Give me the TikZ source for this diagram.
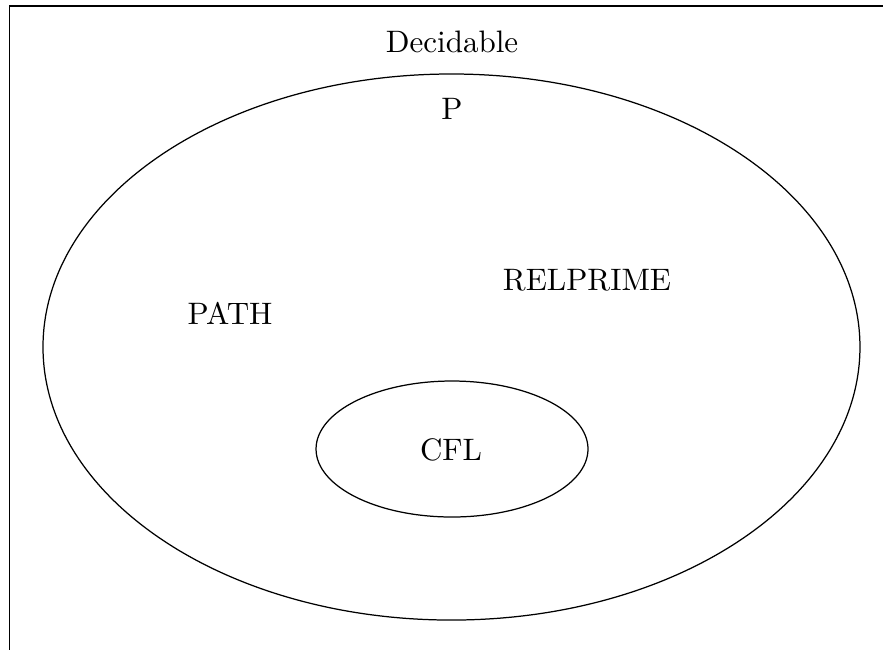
\documentclass[tikz,border=0pt]{standalone}
\usepackage{amsmath}
\usepackage{amssymb}

\tikzset{
  classset/.style={draw},
  classname/.style={inner sep=0pt}
}

\begin{document}
\begin{tikzpicture}
    \useasboundingbox (0,0) rectangle (10,7.361);
    \clip (0,0) rectangle (10,7.361);
    % the decidable languages
    \draw (0.108,-1) rectangle (11,7.293);
    \node[classname] (dec) at (5.119,6.886) {Decidable};
    % P and CFL
    \draw[classset] (5.113,3.431) ellipse (4.626 and 3.092);
    \draw[classset] (5.119,2.276) ellipse (1.54 and 0.77);
    \node[classname] (p) at (5.119,6.127) {P};
    \node[classname] (relprime) at (6.648,4.19) {RELPRIME};
    \node[classname] (path) at (2.605,3.817) {PATH};
    \node[classname] (cfl) at (5.108,2.265) {CFL};
  \end{tikzpicture}
\end{document}
